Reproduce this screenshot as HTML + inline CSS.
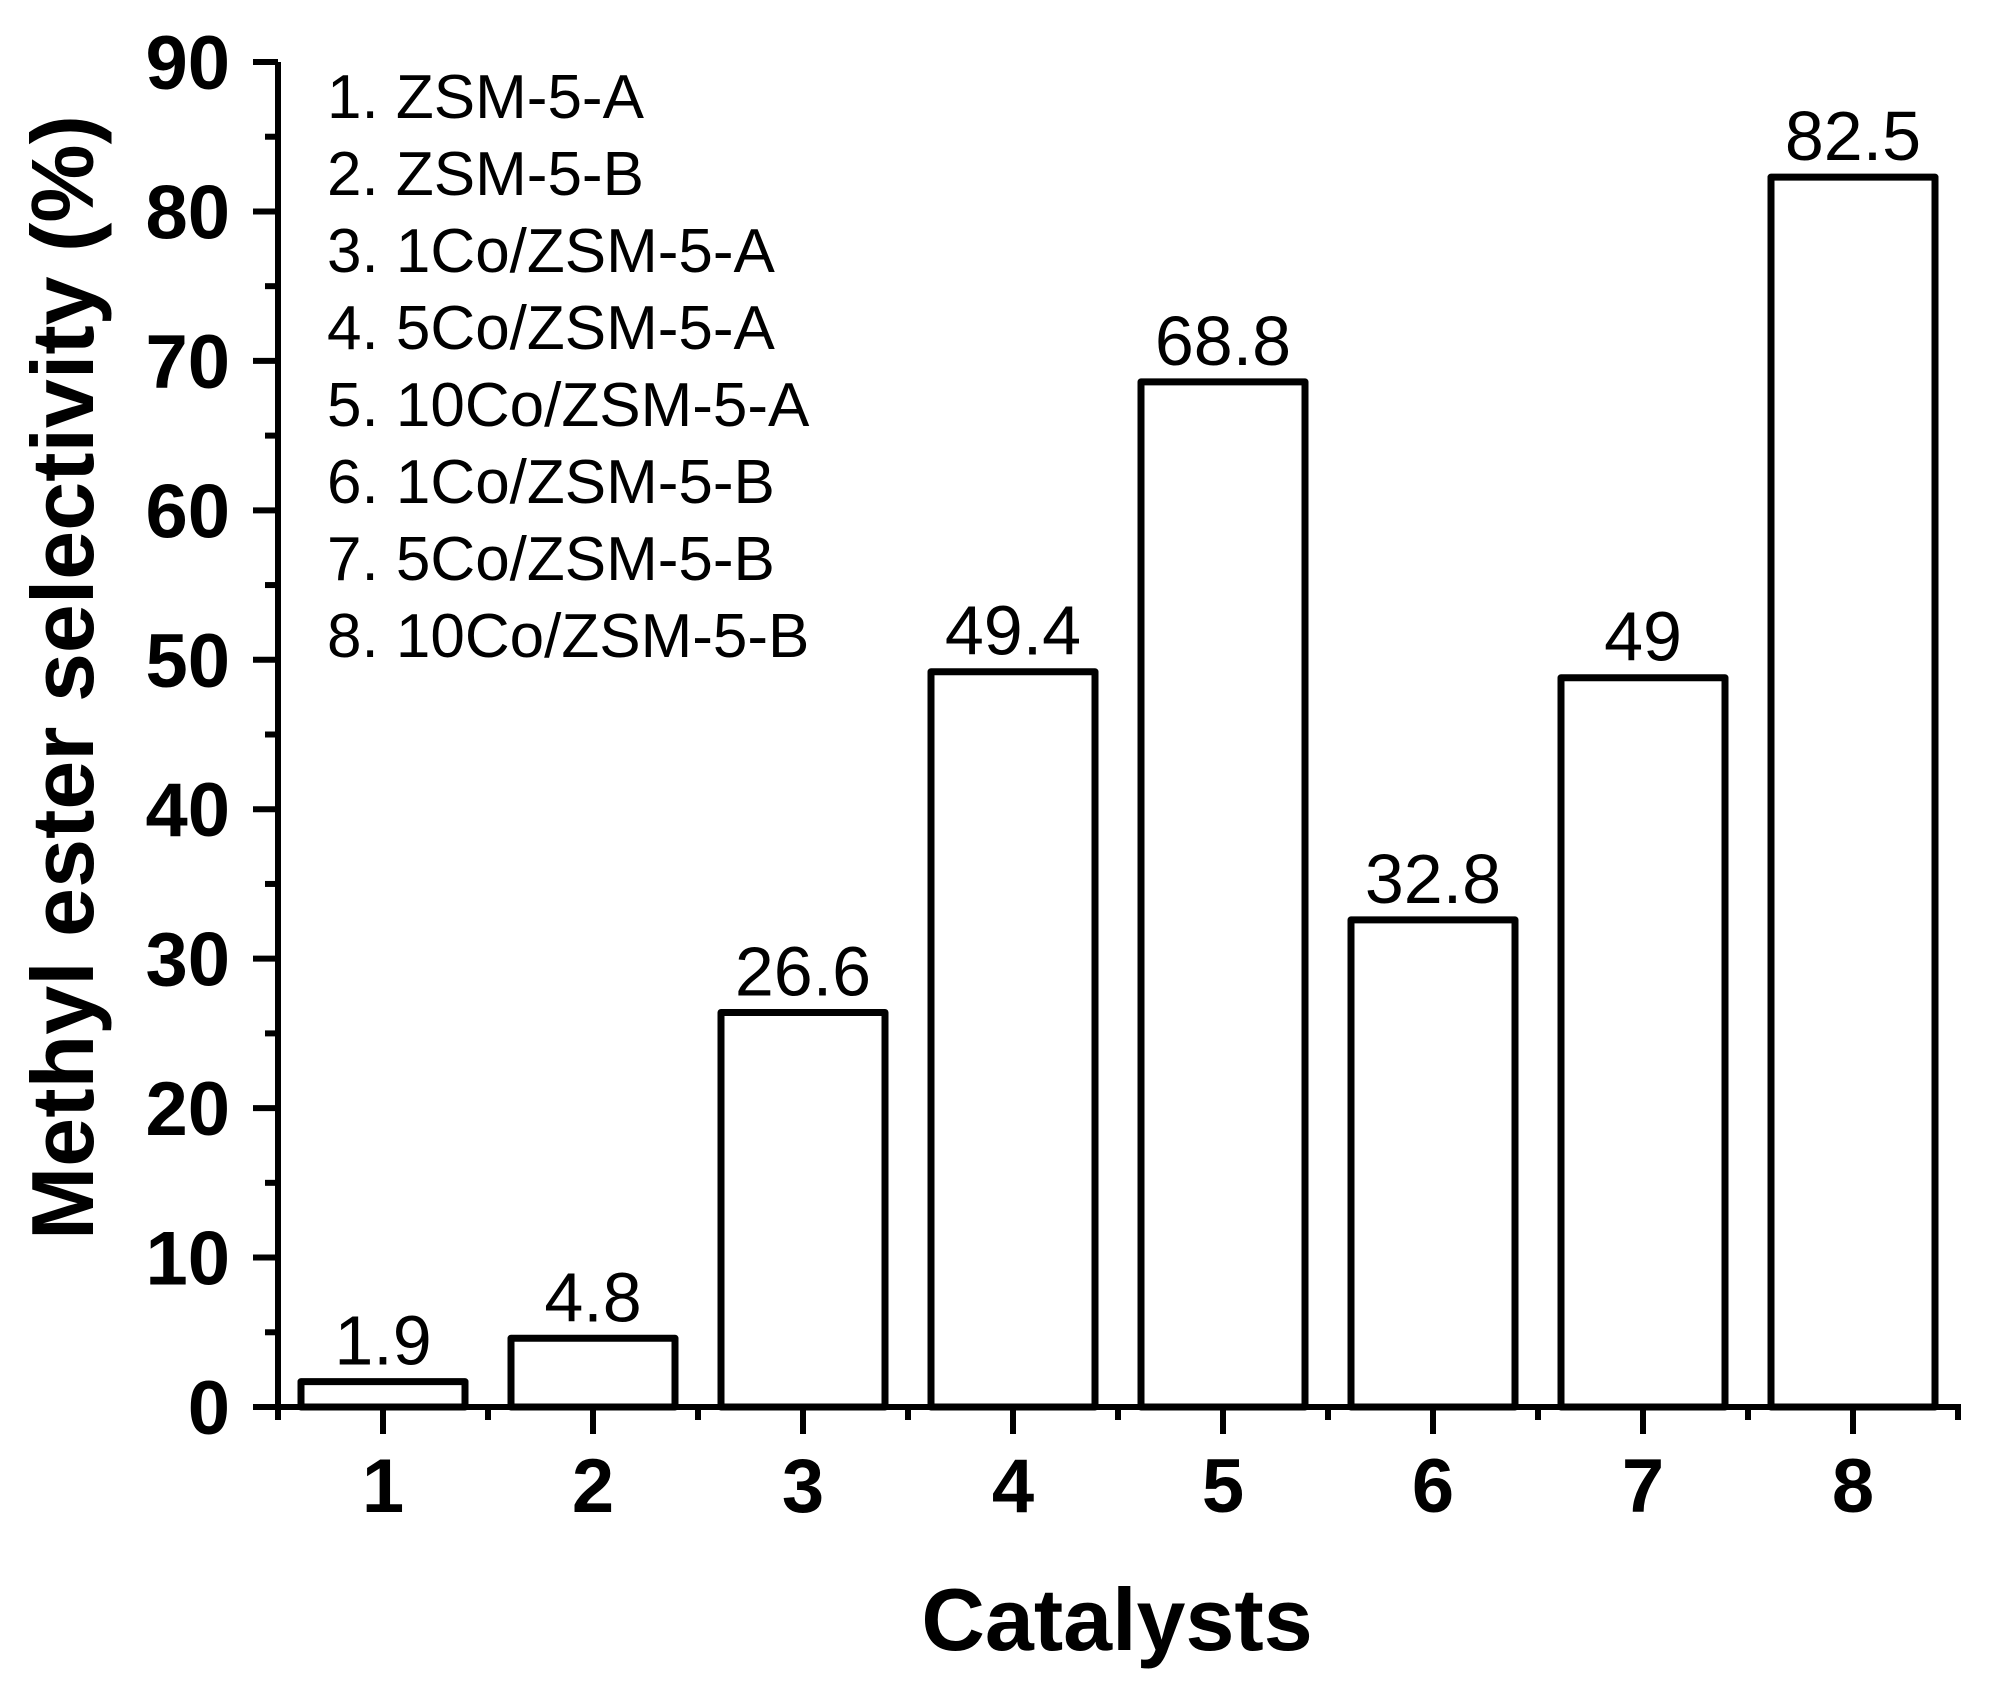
<!DOCTYPE html>
<html><head><meta charset="utf-8"><style>
html,body{margin:0;padding:0;background:#fff}
svg{display:block}
text{font-family:"Liberation Sans",Arial,sans-serif;fill:#000}
</style></head><body>
<svg id="chart" width="1994" height="1691" viewBox="0 0 1994 1691" xmlns="http://www.w3.org/2000/svg">
<g id="axes"></g>
<g id="bars"></g>
<g id="legend"></g>
<text transform="translate(93,1240) rotate(-90)" font-size="88" font-weight="bold">Methyl ester selectivity (%)</text>
<text x="1117" y="1650" font-size="88" font-weight="bold" text-anchor="middle">Catalysts</text>
</svg>
<script>
const categories = ["1","2","3","4","5","6","7","8"];
const values = [1.9, 4.8, 26.6, 49.4, 68.8, 32.8, 49, 82.5];
const valueLabels = ["1.9","4.8","26.6","49.4","68.8","32.8","49","82.5"];
const yTicks = [0,10,20,30,40,50,60,70,80,90];
const legendItems = ["1. ZSM-5-A","2. ZSM-5-B","3. 1Co/ZSM-5-A","4. 5Co/ZSM-5-A","5. 10Co/ZSM-5-A","6. 1Co/ZSM-5-B","7. 5Co/ZSM-5-B","8. 10Co/ZSM-5-B"];

const NS="http://www.w3.org/2000/svg";
const X0=278, X1=1958, Y0=1407, YTOP=62, YMAX=90;
const step=(X1-X0)/categories.length;
function xScale(i){return X0+step*(i+0.5);}
function yScale(v){return Y0-(Y0-YTOP)*v/YMAX;}
function mk(tag,attrs,parent){const e=document.createElementNS(NS,tag);for(const k in attrs)e.setAttribute(k,attrs[k]);parent.appendChild(e);return e;}

const axes=document.getElementById('axes');
let e;
e=mk('line',{x1:X0,y1:YTOP,x2:X0,y2:Y0+3,stroke:'#000','stroke-width':6},axes);


e=mk('line',{x1:X0-25,y1:Y0,x2:X1+3,y2:Y0,stroke:'#000','stroke-width':6},axes);


yTicks.forEach(t=>{
  const y=yScale(t);
  e=mk('line',{x1:X0-25,y1:y,x2:X0,y2:y,stroke:'#000','stroke-width':6},axes);
  
  
  if(t<YMAX){const ym=yScale(t+5);
    e=mk('line',{x1:X0-13,y1:ym,x2:X0,y2:ym,stroke:'#000','stroke-width':6},axes);
    
    }
  e=mk('text',{x:230,y:y+27,'font-size':76,'font-weight':'bold','text-anchor':'end'},axes);
  e.textContent=t;
  
  
});
for(let i=0;i<=categories.length;i++){
  const x=X0+step*i;
  e=mk('line',{x1:x,y1:Y0,x2:x,y2:Y0+13,stroke:'#000','stroke-width':6},axes);
  
  
}
categories.forEach((c,i)=>{
  const x=xScale(i);
  e=mk('line',{x1:x,y1:Y0,x2:x,y2:Y0+27,stroke:'#000','stroke-width':6},axes);
  
  
  e=mk('text',{x:x,y:1512,'font-size':76,'font-weight':'bold','text-anchor':'middle'},axes);
  e.textContent=c;
  
  
});

const bars=document.getElementById('bars');
values.forEach((v,i)=>{
  const x=xScale(i), y=yScale(v);
  e=mk('rect',{x:x-82,y:y+3,width:164,height:Y0-y-3,fill:'#fff',stroke:'#000','stroke-width':7,'stroke-linejoin':'round'},bars);
  
  
  e=mk('text',{x:x,y:y-14,'font-size':70,'text-anchor':'middle'},bars);
  e.textContent=valueLabels[i];
  
  
});

const legend=document.getElementById('legend');
legendItems.forEach((s,i)=>{
  e=mk('text',{x:327,y:118+77*i,'font-size':62},legend);
  e.textContent=s;
  
  
});
</script>
</body></html>
